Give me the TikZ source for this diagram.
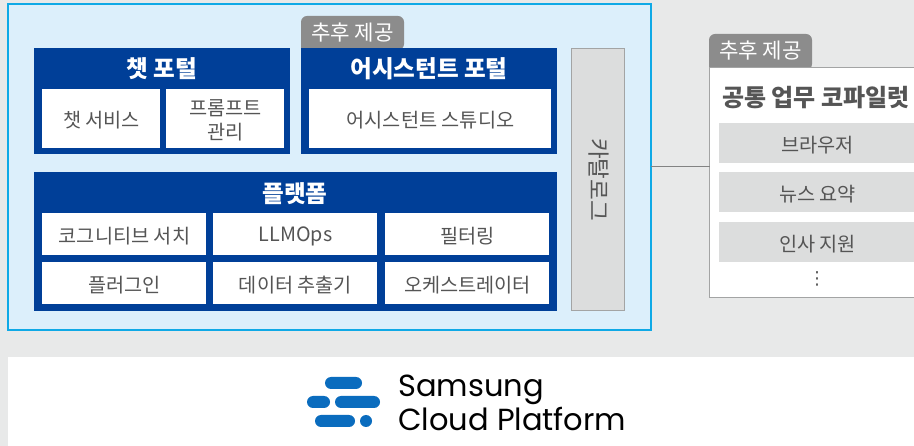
\documentclass[tikz,border=0pt]{standalone}
\usepackage{fontspec}
\setmainfont{Noto Sans CJK KR}
\newfontfamily\logofont{Poppins}
\newfontfamily\symbolfont{DejaVu Sans}
\definecolor{pagebg}{HTML}{E8E9E9}
\definecolor{panelfill}{HTML}{DCEFFB}
\definecolor{panelline}{HTML}{0FA9E6}
\definecolor{deepblue}{HTML}{003F98}
\definecolor{tabgray}{HTML}{8C8C8C}
\definecolor{itemgray}{HTML}{DCDDDD}
\definecolor{edgegray}{HTML}{A3A4A4}
\definecolor{labelgray}{HTML}{555555}
\definecolor{logoblue}{HTML}{0A6CBE}
% \bx{style}{name}{x1}{y1}{x2}{y2}: a box; \cx adds its text
\newcommand{\bx}[6]{\node[#1,minimum width=#5pt-#3pt,minimum height=#6pt-#4pt] (#2) at ({(#3+#5)/2},{(#4+#6)/2}) {};}
\newcommand{\cx}[7]{\bx{#1}{#2}{#3}{#4}{#5}{#6}\node[celltext] (#2T) at (#2) {#7};}
\tikzset{
  base/.style={inner sep=0pt,outer sep=0pt,rectangle},
  panel/.style={base,fill=panelfill,draw=panelline,line width=1.8pt},
  group/.style={base,fill=deepblue},
  cell/.style={base,fill=white},
  celltext/.style={inner sep=0pt,align=center,yshift=-2pt,xshift=0.5pt,text=labelgray,font=\fontsize{19.7}{24}\selectfont},
  grouptitle/.style={inner sep=0pt,text=white,font=\fontsize{23.6}{26}\selectfont\bfseries},
  catalogbox/.style={base,fill=itemgray,draw=edgegray,line width=1pt},
  copilotbox/.style={base,fill=white,draw=edgegray,line width=1pt},
  item/.style={base,fill=itemgray},
  tabshape/.style={fill=tabgray,rounded corners=6pt},
  tabtext/.style={inner sep=0pt,text=white,font=\fontsize{21.2}{24}\selectfont},
  pill/.style={fill=logoblue,rounded corners=6pt},
  logotext/.style={inner sep=0pt,anchor=base west,text=black,font=\logofont\fontsize{30.5}{36}\selectfont},
  link/.style={draw=edgegray!80!black,line width=1pt}
}
\begin{document}
\begin{tikzpicture}[x=1pt,y=-1pt]
\useasboundingbox (0,0) rectangle (914,446);
\clip (0,0) rectangle (914,446);
\fill[pagebg] (0,0) rectangle (914,446);
\fill[white] (8,357) rectangle (914,446);
% main panel
\bx{panel}{main}{8}{4}{651}{330}
% tab over assistant
\path[tabshape] (301,50) -- (301,16) -- (404,16) -- (404,50) [sharp corners] -- cycle;
\node[tabtext] (tabA) at (352.5,32.5) {추후 제공};
% chat portal
\bx{group}{chat}{34}{48}{290}{154}
\node[grouptitle] (chatT) at (162,69) {챗 포털};
\cx{cell}{chatA}{42}{89}{160}{148}{챗 서비스}
\cx{cell}{chatB}{166}{89}{284}{148}{프롬프트\\관리}
% assistant portal
\bx{group}{asst}{301}{48}{557}{154}
\node[grouptitle] (asstT) at (429,69) {어시스턴트 포털};
\cx{cell}{asstA}{309}{89}{551}{148}{어시스턴트 스튜디오}
% platform
\bx{group}{plat}{34}{172}{557}{311}
\node[grouptitle] (platT) at (295,194) {플랫폼};
\cx{cell}{p1}{42}{213}{206}{255}{코그니티브 서치}
\cx{cell}{p2}{213}{213}{377}{255}{LLMOps}
\cx{cell}{p3}{385}{213}{549}{255}{필터링}
\cx{cell}{p4}{42}{262}{206}{304}{플러그인}
\cx{cell}{p5}{213}{262}{377}{304}{데이터 추출기}
\cx{cell}{p6}{385}{262}{549}{304}{오케스트레이터}
% catalog
\bx{catalogbox}{cat}{571.5}{48.5}{624}{311}
\node[rotate=-90,inner sep=0pt,text=labelgray,font=\fontsize{22.5}{24}\selectfont] (catT) at (599,179.5) {카탈로그};
% copilot
\path[tabshape] (709,70) -- (709,34) -- (812,34) -- (812,70) [sharp corners] -- cycle;
\node[tabtext] (tabB) at (760.5,50.5) {추후 제공};
\bx{copilotbox}{cop}{709.5}{68}{935}{298}
\node[inner sep=0pt,text=labelgray,font=\fontsize{24}{26}\selectfont\bfseries] (copT) at (816,98) {공통 업무 코파일럿};
\cx{item}{i1}{719}{123}{915}{163}{브라우저}
\cx{item}{i2}{719}{172}{915}{212}{뉴스 요약}
\cx{item}{i3}{719}{222}{915}{262}{인사 지원}
\node[inner sep=0pt,text=labelgray,font=\symbolfont\fontsize{18}{18}\selectfont] (dots) at (817,279) {⋮};
% connector
\draw[link] (main.east) -- (main.east -| cop.west);
% logo
\path[pill] (325,377) rectangle (362,389);
\path[pill] (307,396) rectangle (330,408);
\path[pill] (335,396) rectangle (380,408);
\path[pill] (315,415) rectangle (355,427);
\fill[logoblue] (366,421) circle (6);
\node[logotext] (logoA) at (398,397) {Samsung};
\node[logotext] (logoB) at (398,431) {Cloud Platform};
\end{tikzpicture}
\end{document}
